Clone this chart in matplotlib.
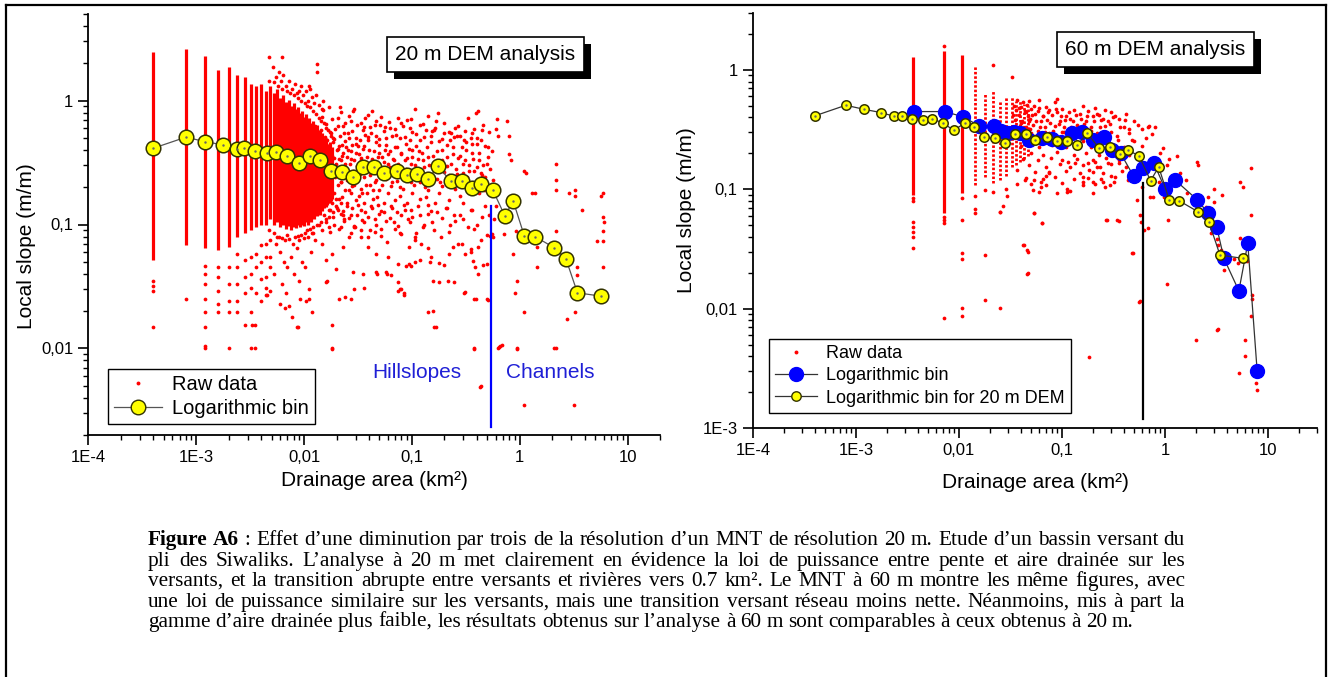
import matplotlib
matplotlib.use("Agg")
import matplotlib.pyplot as plt
from matplotlib.lines import Line2D
from matplotlib.patches import Rectangle
from matplotlib.ticker import LogLocator, NullFormatter
import numpy as np

plt.rcParams['font.family'] = ['Liberation Sans', 'DejaVu Sans']

# ---------------- 20 m DEM ----------------
bin20_area = [4.0e-4, 7.96e-4, 1.21e-3, 1.76e-3, 2.36e-3, 2.78e-3, 3.53e-3, 4.52e-3, 5.52e-3,
              7.0e-3, 8.87e-3, 1.14e-2, 1.40e-2, 1.76e-2, 2.23e-2, 2.83e-2, 3.53e-2, 4.47e-2,
              5.52e-2, 7.2e-2, 9.04e-2, 0.112, 0.140, 0.176, 0.228, 0.291, 0.363, 0.440, 0.562,
              0.726, 0.871, 1.10, 1.38, 2.10, 2.68, 3.43, 5.68]
bin20_slope = [0.413, 0.506, 0.467, 0.439, 0.408, 0.415, 0.390, 0.381, 0.388, 0.360, 0.312,
               0.358, 0.332, 0.272, 0.267, 0.244, 0.290, 0.290, 0.259, 0.272, 0.252, 0.256,
               0.233, 0.295, 0.223, 0.226, 0.196, 0.213, 0.190, 0.118, 0.154, 0.0815, 0.080,
               0.0648, 0.0529, 0.0281, 0.0264]

# raw data piled up in solid columns (cell multiples of 0.0004 km2)
col20_area = [0.0004, 0.0008, 0.0012, 0.0016, 0.0020, 0.0024, 0.0028, 0.0032, 0.0036, 0.0040, 0.0044,
              0.0048, 0.0052, 0.0056, 0.0060, 0.0064, 0.0068, 0.0072, 0.0076, 0.0080, 0.0084,
              0.0088, 0.0092, 0.0096, 0.0100, 0.0104, 0.0108, 0.0112, 0.0116, 0.0120, 0.0124,
              0.0128, 0.0132, 0.0136, 0.0140, 0.0144, 0.0148, 0.0152, 0.0156, 0.0160, 0.0164,
              0.0168, 0.0172, 0.0176, 0.0180]
col20_top = [2.45, 2.6, 2.3, 1.75, 1.85, 1.6, 1.55, 1.35, 1.3, 1.35, 1.2,
             1.3, 1.15, 1.25, 1.05, 1.12, 0.98, 1.02, 0.9, 0.95, 0.85,
             0.88, 0.8, 0.82, 0.74, 0.78, 0.7, 0.72, 0.66, 0.68, 0.62,
             0.6, 0.63, 0.56, 0.58, 0.52, 0.55, 0.5, 0.47, 0.5, 0.45,
             0.43, 0.46, 0.41, 0.42]
col20_bot = [0.052, 0.068, 0.065, 0.062, 0.066, 0.08, 0.085, 0.09, 0.095, 0.1, 0.1,
             0.11, 0.1, 0.105, 0.095, 0.1, 0.092, 0.098, 0.09, 0.095, 0.093,
             0.1, 0.095, 0.1, 0.098, 0.105, 0.1, 0.11, 0.105, 0.115, 0.11,
             0.12, 0.118, 0.125, 0.12, 0.13, 0.128, 0.135, 0.14, 0.138, 0.145,
             0.15, 0.148, 0.155, 0.16]

raw20_pts = [
    (0.00477, 2.24), (0.00628, 2.23), (0.0051, 1.86), (0.0133, 1.98), (0.0133, 1.69), (0.0090, 1.20),
    (0.0114, 1.24), (0.0119, 1.06), (0.0150, 1.00), (0.0171, 0.88), (0.0215, 0.88), (0.0283, 0.83),
    (0.039, 0.76), (0.0469, 0.69), (0.0356, 0.61), (0.0562, 0.61), (0.074, 0.73), (0.0973, 0.71),
    (0.128, 0.65), (0.154, 0.57), (0.221, 0.56), (0.245, 0.51), (0.305, 0.48), (0.39, 0.80),
    (0.168, 0.69), (0.605, 0.59), (0.76, 0.69), (0.796, 0.52), (0.633, 0.52), (0.504, 0.42),
    (0.401, 0.45), (0.833, 0.33), (0.796, 0.37),
    (0.0055, 1.55), (0.0058, 1.70), (0.0061, 1.45), (0.0064, 1.60), (0.0068, 1.30), (0.0072, 1.45),
    (0.0077, 1.25), (0.0082, 1.35), (0.0086, 1.15), (0.0093, 1.30), (0.0097, 1.10), (0.0103, 1.20),
    (0.0108, 1.00), (0.0112, 1.30), (0.0124, 0.95), (0.0128, 1.10), (0.0138, 0.92), (0.0145, 0.85),
    (1.10, 0.27), (1.15, 0.26), (1.38, 0.18), (1.31, 0.18), (2.17, 0.31), (2.17, 0.23), (2.17, 0.19),
    (3.28, 0.19), (3.28, 0.17), (2.86, 0.18), (5.94, 0.18), (5.68, 0.17), (3.76, 0.13), (5.94, 0.115),
    (6.0, 0.105), (5.94, 0.089), (5.94, 0.074), (5.18, 0.074), (5.94, 0.045), (3.43, 0.045),
    (3.43, 0.039), (3.28, 0.0196), (2.73, 0.0174), (2.17, 0.089), (2.17, 0.066), (2.17, 0.059),
    (1.44, 0.066), (1.44, 0.045), (0.95, 0.035), (0.91, 0.028), (1.10, 0.0196), (1.10, 0.0035),
    (3.20, 0.0035), (0.633, 0.010), (0.66, 0.0105), (0.95, 0.010), (2.10, 0.010), (2.17, 0.010),
    (0.376, 0.010), (0.431, 0.0049), (0.161, 0.0148), (0.14, 0.0196), (0.305, 0.028), (0.38, 0.025),
    (0.495, 0.025), (0.50, 0.048), (0.55, 0.084), (0.50, 0.082), (0.366, 0.051), (0.35, 0.063),
    (0.29, 0.07), (0.221, 0.058), (0.20, 0.047), (0.18, 0.049), (0.14, 0.065), (0.118, 0.052),
    (0.098, 0.046), (0.088, 0.046), (0.074, 0.029), (0.085, 0.027), (0.0588, 0.040), (0.047, 0.040),
    (0.0356, 0.031), (0.027, 0.025), (0.024, 0.026), (0.018, 0.0154), (0.018, 0.010), (0.0119, 0.0196),
    (0.011, 0.025), (0.0085, 0.0148), (0.0088, 0.0148), (0.0067, 0.021), (0.006, 0.023),
    (0.0035, 0.0154), (0.0033, 0.0154), (0.0032, 0.010), (0.0035, 0.010), (0.0020, 0.010),
    (0.0020, 0.0196), (0.0012, 0.010), (0.0012, 0.0104), (0.0012, 0.015), (0.0012, 0.0196),
    (0.0012, 0.025), (0.0012, 0.033), (0.0012, 0.040), (0.0012, 0.046), (0.0004, 0.035),
    (0.0004, 0.032), (0.0004, 0.029), (0.0004, 0.015), (0.0008, 0.025),
    (0.58, 0.11), (0.6, 0.14), (0.78, 0.16), (0.82, 0.12), (0.72, 0.084), (0.92, 0.088), (0.87, 0.058),
    (0.0016, 0.045), (0.0016, 0.038), (0.0016, 0.029), (0.0016, 0.023), (0.0016, 0.0196),
    (0.0020, 0.045), (0.0020, 0.033), (0.0020, 0.024), (0.0024, 0.058), (0.0024, 0.045),
    (0.0024, 0.033), (0.0024, 0.024), (0.0024, 0.0196), (0.0028, 0.052), (0.0028, 0.038),
    (0.0028, 0.028), (0.0028, 0.0154), (0.0032, 0.055), (0.0032, 0.040), (0.0032, 0.031),
    (0.0032, 0.0196), (0.0036, 0.058), (0.0036, 0.045), (0.0036, 0.028), (0.0040, 0.068),
    (0.0040, 0.05), (0.0040, 0.036), (0.0040, 0.024), (0.0044, 0.07), (0.0044, 0.055),
    (0.0044, 0.038), (0.0044, 0.031), (0.0044, 0.027), (0.0048, 0.075), (0.0048, 0.055),
    (0.0048, 0.045), (0.0048, 0.029),
    (0.0055, 0.07), (0.006, 0.06), (0.0065, 0.05), (0.007, 0.045), (0.0075, 0.055), (0.008, 0.04),
    (0.0085, 0.065), (0.009, 0.035), (0.0095, 0.05), (0.0102, 0.045), (0.011, 0.03), (0.0115, 0.06),
    (0.0052, 0.04), (0.0062, 0.033), (0.0068, 0.028), (0.0072, 0.022), (0.0078, 0.018),
    (0.0092, 0.025), (0.0104, 0.024), (0.0045, 0.027), (0.0056, 0.08), (0.0066, 0.075),
    (0.0079, 0.07), (0.0089, 0.075), (0.0099, 0.078), (0.0108, 0.08), (0.0118, 0.085),
    (0.0158, 0.0343), (0.0199, 0.0439), (0.0282, 0.0413), (0.0349, 0.040), (0.0464, 0.0413),
    (0.0575, 0.0413), (0.0641, 0.0388), (0.074, 0.0343), (0.0795, 0.0303), (0.0853, 0.0279),
    (0.1057, 0.0497), (0.1456, 0.0497), (0.156, 0.0353), (0.180, 0.0343), (0.215, 0.0353),
    (0.248, 0.0343), (0.308, 0.0285), (0.395, 0.0251), (0.507, 0.0244), (0.386, 0.0453),
    (0.455, 0.0467), (0.409, 0.040), (0.564, 0.079), (0.532, 0.0815), (0.409, 0.0657),
    (0.355, 0.0598), (0.308, 0.058), (0.24, 0.0657), (0.151, 0.0546), (0.122, 0.0698),
    (0.106, 0.079), (0.0795, 0.084), (0.0949, 0.0482), (0.0949, 0.0657), (0.074, 0.0482),
    (0.0597, 0.0546), (0.0465, 0.058), (0.0518, 0.0815), (0.0389, 0.0657), (0.0339, 0.079),
    (0.0263, 0.079), (0.0229, 0.0657), (0.0182, 0.058), (0.0146, 0.0698), (0.0158, 0.0513),
    (0.0219, 0.095), (0.017, 0.095), (0.0288, 0.095), (0.0412, 0.0895), (0.0209, 0.0251),
    (0.0163, 0.0353), (0.0288, 0.0303), (0.0767, 0.0303), (0.156, 0.0202), (0.168, 0.0149),
    (0.0182, 0.0099), (0.38, 0.0099), (0.645, 0.0103), (0.69, 0.0106), (0.946, 0.0099), (0.44, 0.0050),
    (0.0151, 0.84), (0.0221, 0.81), (0.0288, 0.86), (0.043, 0.82), (0.106, 0.85), (0.174, 0.80), (0.41, 0.83),
    (0.0146, 0.74), (0.018, 0.71), (0.026, 0.75), (0.037, 0.72), (0.052, 0.74), (0.09, 0.70),
    (0.142, 0.75), (0.33, 0.72), (0.62, 0.71),
    (0.016, 0.65), (0.0205, 0.62), (0.024, 0.66), (0.031, 0.63), (0.045, 0.64), (0.061, 0.67),
    (0.082, 0.62), (0.12, 0.64), (0.20, 0.66), (0.27, 0.62), (0.46, 0.64),
    (0.0142, 0.58), (0.0175, 0.56), (0.0195, 0.59), (0.0232, 0.55), (0.028, 0.57), (0.035, 0.58),
    (0.042, 0.55), (0.055, 0.57), (0.07, 0.59), (0.10, 0.56), (0.16, 0.58), (0.23, 0.55),
    (0.31, 0.57), (0.38, 0.59), (0.52, 0.56),
    (0.0155, 0.51), (0.019, 0.49), (0.0215, 0.52), (0.026, 0.50), (0.033, 0.48), (0.039, 0.51),
    (0.05, 0.49), (0.065, 0.52), (0.078, 0.50), (0.095, 0.48), (0.13, 0.51), (0.19, 0.49),
    (0.26, 0.52), (0.35, 0.50), (0.44, 0.48),
    (0.0148, 0.45), (0.0168, 0.43), (0.0185, 0.46), (0.0225, 0.44), (0.0245, 0.42), (0.030, 0.45),
    (0.036, 0.43), (0.046, 0.46), (0.058, 0.44), (0.072, 0.42), (0.088, 0.45), (0.11, 0.43),
    (0.15, 0.46), (0.21, 0.44), (0.29, 0.42), (0.36, 0.45), (0.48, 0.43),
    (0.0152, 0.39), (0.0172, 0.37), (0.020, 0.40), (0.023, 0.38), (0.027, 0.39), (0.032, 0.37),
    (0.040, 0.40), (0.050, 0.38), (0.063, 0.39), (0.080, 0.37), (0.10, 0.40), (0.125, 0.38),
    (0.17, 0.39), (0.24, 0.37), (0.32, 0.40), (0.42, 0.38), (0.55, 0.39),
    (0.0145, 0.35), (0.016, 0.33), (0.0188, 0.345), (0.021, 0.335), (0.025, 0.35), (0.029, 0.33),
    (0.034, 0.345), (0.043, 0.335), (0.053, 0.35), (0.068, 0.33), (0.09, 0.345), (0.115, 0.335),
    (0.14, 0.35), (0.19, 0.33), (0.27, 0.345), (0.37, 0.335),
    (0.015, 0.305), (0.0178, 0.295), (0.0198, 0.31), (0.024, 0.29), (0.0265, 0.305), (0.031, 0.295),
    (0.037, 0.31), (0.048, 0.29), (0.06, 0.305), (0.075, 0.295), (0.098, 0.31), (0.13, 0.29),
    (0.16, 0.305), (0.21, 0.295), (0.30, 0.31), (0.40, 0.29), (0.50, 0.305),
    (0.0158, 0.265), (0.0182, 0.255), (0.021, 0.27), (0.0235, 0.25), (0.028, 0.265), (0.033, 0.255),
    (0.040, 0.27), (0.052, 0.25), (0.068, 0.265), (0.085, 0.255), (0.11, 0.27), (0.145, 0.25),
    (0.20, 0.265), (0.26, 0.255), (0.34, 0.27), (0.45, 0.25),
    (0.0143, 0.235), (0.0165, 0.225), (0.0192, 0.24), (0.022, 0.22), (0.026, 0.235), (0.030, 0.225),
    (0.036, 0.24), (0.045, 0.22), (0.057, 0.235), (0.072, 0.225), (0.092, 0.24), (0.12, 0.22),
    (0.17, 0.235), (0.23, 0.225), (0.31, 0.24), (0.39, 0.22),
    (0.015, 0.205), (0.0175, 0.195), (0.0205, 0.21), (0.024, 0.19), (0.028, 0.205), (0.034, 0.195),
    (0.041, 0.21), (0.050, 0.19), (0.064, 0.205), (0.082, 0.195), (0.105, 0.21), (0.14, 0.19),
    (0.19, 0.205), (0.25, 0.195), (0.33, 0.21), (0.47, 0.19),
    (0.0145, 0.18), (0.0168, 0.17), (0.019, 0.178), (0.0225, 0.168), (0.027, 0.18), (0.032, 0.17),
    (0.038, 0.178), (0.047, 0.168), (0.060, 0.18), (0.078, 0.17), (0.10, 0.178), (0.135, 0.168),
    (0.18, 0.18), (0.28, 0.17), (0.42, 0.178),
    (0.0155, 0.158), (0.018, 0.15), (0.021, 0.16), (0.025, 0.148), (0.030, 0.157), (0.036, 0.15),
    (0.044, 0.16), (0.055, 0.148), (0.070, 0.157), (0.090, 0.15), (0.12, 0.16), (0.165, 0.148),
    (0.22, 0.157), (0.30, 0.15),
    (0.0148, 0.138), (0.017, 0.13), (0.0198, 0.14), (0.023, 0.128), (0.028, 0.137), (0.034, 0.13),
    (0.042, 0.14), (0.052, 0.128), (0.066, 0.137), (0.086, 0.13), (0.115, 0.14), (0.15, 0.128),
    (0.21, 0.137), (0.35, 0.13),
    (0.0152, 0.12), (0.0185, 0.114), (0.022, 0.122), (0.026, 0.113), (0.031, 0.12), (0.039, 0.114),
    (0.050, 0.122), (0.063, 0.113), (0.080, 0.12), (0.10, 0.114), (0.14, 0.122), (0.19, 0.113),
    (0.28, 0.12), (0.45, 0.114),
    (0.016, 0.105), (0.019, 0.099), (0.0235, 0.106), (0.029, 0.098), (0.036, 0.104), (0.046, 0.099),
    (0.058, 0.106), (0.075, 0.098), (0.095, 0.104), (0.13, 0.099), (0.25, 0.106),
    (0.0145, 0.091), (0.0175, 0.087), (0.021, 0.092), (0.027, 0.086), (0.034, 0.091), (0.045, 0.087),
    (0.07, 0.092), (0.11, 0.086), (0.16, 0.091), (0.22, 0.087), (0.38, 0.092),
    (0.0125, 0.62), (0.013, 0.45), (0.0135, 0.3), (0.0127, 0.2), (0.0132, 0.14), (0.0137, 0.1),
    (0.0122, 0.085), (0.0126, 0.075), (0.014, 0.5), (0.0142, 0.26), (0.0139, 0.16), (0.0163, 0.48),
    (0.0166, 0.3), (0.0169, 0.21), (0.0173, 0.13), (0.0178, 0.52), (0.0183, 0.36), (0.0194, 0.27),
    (0.0197, 0.16), (0.0212, 0.43), (0.0218, 0.33), (0.0222, 0.22), (0.0228, 0.12),
    (0.0205, 0.41), (0.0215, 0.29), (0.0225, 0.36), (0.0238, 0.47), (0.0242, 0.31), (0.0248, 0.23),
    (0.0255, 0.4), (0.0262, 0.19), (0.0272, 0.34), (0.0278, 0.44), (0.0285, 0.27), (0.0292, 0.21),
    (0.0302, 0.38), (0.0315, 0.43), (0.0322, 0.26), (0.0335, 0.33), (0.0342, 0.18), (0.0352, 0.41),
    (0.0365, 0.29), (0.0372, 0.21), (0.0385, 0.35), (0.0395, 0.48), (0.0405, 0.25), (0.0418, 0.32),
    (0.0432, 0.19), (0.0445, 0.39), (0.0455, 0.28), (0.0468, 0.23), (0.0482, 0.35), (0.0495, 0.44),
    (0.051, 0.27), (0.053, 0.21), (0.0545, 0.32), (0.056, 0.40), (0.058, 0.25), (0.0605, 0.37),
    (0.0625, 0.29), (0.065, 0.22), (0.067, 0.34), (0.0695, 0.42), (0.0715, 0.27), (0.074, 0.31),
    (0.077, 0.2), (0.079, 0.38), (0.083, 0.24), (0.086, 0.33), (0.089, 0.28), (0.093, 0.41),
    (0.097, 0.22), (0.101, 0.35), (0.106, 0.3), (0.11, 0.24), (0.116, 0.39), (0.121, 0.27),
    (0.127, 0.33), (0.133, 0.2), (0.138, 0.42), (0.145, 0.3), (0.152, 0.24), (0.158, 0.36),
    (0.166, 0.27), (0.175, 0.32), (0.183, 0.22), (0.192, 0.4), (0.2, 0.29), (0.21, 0.35),
    (0.22, 0.25), (0.232, 0.31), (0.243, 0.42), (0.255, 0.28), (0.268, 0.22), (0.28, 0.36),
    (0.295, 0.26), (0.31, 0.33), (0.325, 0.24), (0.34, 0.3), (0.36, 0.38), (0.375, 0.27),
    (0.395, 0.22), (0.415, 0.33), (0.435, 0.26), (0.46, 0.3), (0.48, 0.24), (0.51, 0.35),
    (0.535, 0.28), (0.56, 0.23),
    (0.0208, 0.13), (0.0232, 0.11), (0.0252, 0.142), (0.0275, 0.12), (0.0298, 0.095), (0.0318, 0.145),
    (0.0345, 0.108), (0.0368, 0.125), (0.0392, 0.08), (0.0425, 0.135), (0.0458, 0.11), (0.0488, 0.145),
    (0.052, 0.092), (0.0555, 0.125), (0.059, 0.072), (0.0635, 0.14), (0.068, 0.105), (0.0725, 0.125),
    (0.078, 0.085), (0.084, 0.145), (0.091, 0.11), (0.098, 0.13), (0.107, 0.075), (0.118, 0.12),
    (0.128, 0.095), (0.14, 0.145), (0.155, 0.105), (0.17, 0.125), (0.186, 0.08), (0.205, 0.135),
    (0.225, 0.1), (0.245, 0.12), (0.27, 0.07), (0.3, 0.11), (0.33, 0.095), (0.36, 0.13),
    (0.4, 0.1), (0.44, 0.075), (0.48, 0.14), (0.52, 0.12),
    (0.0205, 0.72), (0.023, 0.62), (0.0255, 0.55), (0.0275, 0.68), (0.0305, 0.5), (0.0335, 0.66),
    (0.037, 0.53), (0.041, 0.61), (0.046, 0.52), (0.051, 0.64), (0.057, 0.5), (0.063, 0.6),
    (0.071, 0.53), (0.079, 0.66), (0.087, 0.51), (0.096, 0.6), (0.108, 0.54), (0.12, 0.48),
    (0.135, 0.58), (0.15, 0.52), (0.165, 0.6), (0.18, 0.47), (0.2, 0.55), (0.225, 0.48),
    (0.25, 0.6), (0.28, 0.52), (0.32, 0.46), (0.36, 0.55), (0.4, 0.5), (0.45, 0.58),
    (0.0047, 1.45), (0.0053, 1.4), (0.0057, 1.3), (0.0063, 1.25), (0.0069, 1.2), (0.0074, 1.15),
    (0.0081, 1.1), (0.0087, 1.05), (0.0094, 1.0), (0.0101, 0.95), (0.0107, 0.9), (0.0113, 0.88),
    (0.0121, 0.82), (0.0129, 0.78), (0.0136, 0.72), (0.0143, 0.68), (0.0152, 0.66), (0.016, 0.6),
    (0.0168, 0.58), (0.0177, 0.55), (0.0186, 0.5),
    (0.0047, 0.09), (0.0053, 0.085), (0.0058, 0.08), (0.0063, 0.078), (0.0069, 0.082), (0.0073, 0.076),
    (0.0082, 0.079), (0.0087, 0.081), (0.0094, 0.083), (0.0101, 0.086), (0.0107, 0.09), (0.0114, 0.092),
    (0.012, 0.095), (0.0131, 0.1), (0.0144, 0.105), (0.0158, 0.11), (0.017, 0.115), (0.0185, 0.125),
    (0.02, 0.135), (0.022, 0.15),
]

# ---------------- 60 m DEM ----------------
bin60_area = [0.00365, 0.00724, 0.0109, 0.0157, 0.0219, 0.0258, 0.0297, 0.034, 0.0395, 0.0478,
              0.0637, 0.0809, 0.098, 0.124, 0.158, 0.200, 0.254, 0.308, 0.372, 0.496, 0.617,
              0.783, 1.01, 1.25, 2.07, 2.63, 3.18, 3.74, 5.23, 6.38, 7.87]
bin60_slope = [0.448, 0.448, 0.406, 0.340, 0.340, 0.310, 0.294, 0.300, 0.298, 0.259, 0.268,
               0.262, 0.251, 0.294, 0.304, 0.259, 0.273, 0.214, 0.200, 0.129, 0.150, 0.165,
               0.100, 0.120, 0.0814, 0.0629, 0.0486, 0.0264, 0.0141, 0.0353, 0.0030]

col60_area = [0.0036, 0.0072, 0.0108]
col60_top = [1.29, 1.45, 1.34]
col60_bot = [0.090, 0.063, 0.0925]
dcol60_area = [0.0144, 0.018, 0.0216, 0.0252, 0.0288, 0.0324, 0.036, 0.0396, 0.0432, 0.0468]
dcol60_top = [1.10, 0.64, 0.68, 0.56, 0.59, 0.60, 0.55, 0.55, 0.52, 0.50]
dcol60_bot = [0.109, 0.128, 0.113, 0.12, 0.13, 0.155, 0.16, 0.17, 0.18, 0.19]

raw60_pts = [
    (0.0036, 0.0535), (0.0036, 0.0486), (0.0036, 0.0441), (0.0036, 0.040), (0.0036, 0.032),
    (0.0036, 0.085), (0.0036, 0.080), (0.0072, 1.59), (0.0072, 0.059), (0.0072, 0.055),
    (0.0072, 0.052), (0.0072, 0.0083), (0.0108, 0.055), (0.0108, 0.029), (0.0108, 0.026),
    (0.0108, 0.0101), (0.0108, 0.0086), (0.0108, 0.085), (0.0144, 0.088), (0.0144, 0.063),
    (0.0144, 0.069), (0.018, 0.098), (0.018, 0.028), (0.018, 0.0118), (0.0216, 1.1), (0.0216, 0.095),
    (0.0252, 0.065), (0.0252, 0.0101), (0.0288, 0.10), (0.0324, 0.88),
    (0.029, 0.0885), (0.0265, 0.072), (0.0535, 0.0637), (0.0644, 0.0525), (0.0428, 0.034),
    (0.0466, 0.030), (0.0466, 0.020), (0.184, 0.0039), (0.275, 0.055), (0.344, 0.055),
    (0.485, 0.029), (0.56, 0.0114), (0.571, 0.061), (0.689, 0.0477), (0.531, 0.081), (0.764, 0.0867),
    (0.0363, 0.145), (0.0363, 0.11), (0.044, 0.12), (0.0526, 0.099), (0.054, 0.12), (0.063, 0.116),
    (0.063, 0.105), (0.07, 0.13), (0.075, 0.14), (0.111, 0.10), (0.111, 0.095), (0.115, 0.17),
    (0.135, 0.165), (0.161, 0.128), (0.161, 0.116), (0.18, 0.165), (0.185, 0.145), (0.20, 0.116),
    (0.21, 0.17), (0.234, 0.155), (0.25, 0.116), (0.26, 0.105), (0.28, 0.165), (0.30, 0.13),
    (0.32, 0.116), (0.36, 0.165), (0.38, 0.20), (0.43, 0.20), (0.44, 0.12), (0.50, 0.128),
    (0.60, 0.105), (0.65, 0.145), (0.71, 0.0867), (0.75, 0.12),
    (2.07, 0.17), (2.1, 0.16), (2.63, 0.087), (3.0, 0.079), (3.0, 0.10), (3.31, 0.034), (3.5, 0.031),
    (3.74, 0.021), (5.4, 0.116), (5.7, 0.105), (6.8, 0.15), (6.8, 0.061), (6.95, 0.013), (6.3, 0.025),
    (4.7, 0.026), (5.1, 0.024), (5.95, 0.0055), (6.0, 0.004), (5.2, 0.0029), (6.8, 0.0086),
    (7.7, 0.0024), (7.9, 0.0021), (3.3, 0.0068), (3.2, 0.0066), (2.02, 0.0055), (1.05, 0.0162),
    (0.57, 0.0115), (0.48, 0.029), (0.59, 0.053), (0.62, 0.046), (0.99, 0.087), (1.08, 0.055),
    (0.87, 0.116), (1.3, 0.19), (1.4, 0.136), (1.6, 0.12), (1.65, 0.093), (2.5, 0.059), (2.5, 0.071),
    (2.8, 0.043), (3.2, 0.038), (3.6, 0.09), (5.4, 0.039), (7.0, 0.012),
    (0.025, 0.065), (0.053, 0.063), (0.0415, 0.034), (0.046, 0.031), (0.046, 0.0197),
    (0.0637, 0.0526), (0.267, 0.0553), (0.355, 0.0546),
    (0.8, 0.33), (0.95, 0.22), (1.05, 0.16), (0.75, 0.29), (0.68, 0.33), (0.9, 0.2), (1.1, 0.18),
    (0.6, 0.32), (0.65, 0.27), (0.7, 0.34),
    (0.037, 0.56), (0.042, 0.54), (0.048, 0.55), (0.06, 0.56), (0.085, 0.54), (0.09, 0.57),
    (0.034, 0.50), (0.04, 0.49), (0.046, 0.51), (0.053, 0.50), (0.07, 0.49), (0.10, 0.47),
    (0.16, 0.50), (0.21, 0.48),
    (0.036, 0.46), (0.044, 0.45), (0.05, 0.47), (0.058, 0.45), (0.075, 0.46), (0.09, 0.44),
    (0.13, 0.46), (0.18, 0.45), (0.26, 0.46), (0.30, 0.44),
    (0.038, 0.42), (0.047, 0.41), (0.055, 0.43), (0.065, 0.41), (0.08, 0.42), (0.11, 0.41),
    (0.15, 0.43), (0.20, 0.41), (0.23, 0.42), (0.33, 0.41), (0.42, 0.43),
    (0.035, 0.38), (0.041, 0.37), (0.049, 0.39), (0.062, 0.37), (0.072, 0.38), (0.095, 0.37),
    (0.12, 0.39), (0.17, 0.37), (0.24, 0.38), (0.28, 0.37), (0.36, 0.39), (0.50, 0.37),
    (0.039, 0.34), (0.045, 0.335), (0.052, 0.345), (0.068, 0.335), (0.085, 0.34), (0.105, 0.335),
    (0.14, 0.345), (0.19, 0.335), (0.26, 0.34), (0.40, 0.335), (0.55, 0.345),
    (0.043, 0.30), (0.05, 0.295), (0.058, 0.305), (0.075, 0.295), (0.10, 0.30), (0.13, 0.295),
    (0.18, 0.305), (0.22, 0.295), (0.30, 0.30), (0.45, 0.295),
    (0.046, 0.26), (0.055, 0.255), (0.07, 0.265), (0.09, 0.255), (0.12, 0.26), (0.16, 0.255),
    (0.20, 0.265), (0.25, 0.255), (0.35, 0.26), (0.50, 0.255),
    (0.04, 0.23), (0.06, 0.225), (0.08, 0.235), (0.11, 0.225), (0.15, 0.23), (0.19, 0.225),
    (0.28, 0.235), (0.40, 0.225), (0.60, 0.23),
    (0.05, 0.20), (0.065, 0.195), (0.09, 0.205), (0.13, 0.195), (0.17, 0.20), (0.23, 0.195),
    (0.32, 0.205), (0.45, 0.195),
    (0.042, 0.18), (0.058, 0.175), (0.078, 0.182), (0.10, 0.175), (0.14, 0.18), (0.20, 0.175),
    (0.27, 0.182), (0.36, 0.175), (0.55, 0.18),
    (0.048, 0.16), (0.07, 0.155), (0.095, 0.162), (0.12, 0.155), (0.16, 0.16), (0.22, 0.155),
    (0.30, 0.162), (0.42, 0.155), (0.70, 0.16),
    (0.055, 0.14), (0.075, 0.137), (0.11, 0.142), (0.15, 0.137), (0.20, 0.14), (0.25, 0.137),
    (0.38, 0.142),
    (0.045, 0.125), (0.065, 0.122), (0.085, 0.127), (0.13, 0.122), (0.18, 0.125), (0.24, 0.122),
    (0.33, 0.127),
    (0.05, 0.11), (0.07, 0.108), (0.10, 0.112), (0.16, 0.108), (0.21, 0.11), (0.29, 0.108),
    (0.06, 0.095), (0.09, 0.093), (0.12, 0.097), (0.20, 0.093),
    (0.0335, 0.42), (0.0355, 0.33), (0.0375, 0.27), (0.0385, 0.48), (0.0405, 0.36), (0.0425, 0.29),
    (0.0445, 0.44), (0.0475, 0.37), (0.0495, 0.32), (0.0515, 0.42), (0.0545, 0.28), (0.0565, 0.37),
    (0.0595, 0.48), (0.0615, 0.33), (0.066, 0.41), (0.069, 0.3), (0.073, 0.44), (0.077, 0.36),
    (0.082, 0.31), (0.087, 0.47), (0.093, 0.35), (0.098, 0.41), (0.104, 0.3), (0.108, 0.38),
    (0.117, 0.44), (0.123, 0.33), (0.128, 0.37), (0.138, 0.42), (0.146, 0.31), (0.153, 0.39),
    (0.165, 0.35), (0.175, 0.41), (0.19, 0.31), (0.205, 0.37), (0.22, 0.43), (0.235, 0.33),
    (0.25, 0.39), (0.27, 0.3), (0.29, 0.35), (0.31, 0.4), (0.34, 0.28), (0.37, 0.33),
    (0.41, 0.38), (0.45, 0.32), (0.48, 0.26),
]

# shared axis texts
x_ticks = [1e-4, 1e-3, 1e-2, 1e-1, 1, 10]
x_tick_labels = ["1E-4", "1E-3", "0,01", "0,1", "1", "10"]

caption_lines = [
    "Figure A6 : Effet d’une diminution par trois de la résolution d’un MNT de résolution 20 m. Etude d’un bassin versant du",
    "pli des Siwaliks. L’analyse à 20 m met clairement en évidence la loi de puissance entre pente et aire drainée sur les",
    "versants, et la transition abrupte entre versants et rivières vers 0.7 km². Le MNT à 60 m montre les même figures, avec",
    "une loi de puissance similaire sur les versants, mais une transition versant réseau moins nette. Néanmoins, mis à part la",
    "gamme d’aire drainée plus faible, les résultats obtenus sur l’analyse à 60 m sont comparables à ceux obtenus à 20 m.",
]

W, H = 1329, 677
fig = plt.figure(figsize=(W / 100, H / 100), dpi=100)

RED = '#ff0000'
YEL = '#ffff00'
BLUE = '#0000ff'
LAB = 15


def style_axes(ax, xlim, ylim, yticks, ylabels):
    ax.set_xscale('log')
    ax.set_yscale('log')
    ax.set_xlim(*xlim)
    ax.set_ylim(*ylim)
    for s in ['top', 'right']:
        ax.spines[s].set_visible(False)
    for s in ['left', 'bottom']:
        ax.spines[s].set_linewidth(1.3)
    ax.set_xticks(x_ticks, x_tick_labels)
    ax.set_yticks(yticks, ylabels)
    ax.xaxis.set_minor_locator(LogLocator(base=10, subs=np.arange(2, 10), numticks=50))
    ax.yaxis.set_minor_locator(LogLocator(base=10, subs=np.arange(2, 10), numticks=50))
    ax.xaxis.set_minor_formatter(NullFormatter())
    ax.yaxis.set_minor_formatter(NullFormatter())
    ax.tick_params(which='major', direction='out', length=7, width=1.2, labelsize=12, pad=4)
    ax.tick_params(which='minor', direction='out', length=3.5, width=1.0)
    ax.set_facecolor('none')


def bin_marker(ax, x, y, face, ms, z=4):
    ax.plot(x, y, 'o', color=face, mec='#333300', mew=1.1, ms=ms, zorder=z)
    ax.plot(x, y, '.', color='#666666', ms=1.5, zorder=z + 0.1)


boxes = []


def shadow_box(x, y, text):
    t = fig.text(x / W, 1 - y / H, text, fontsize=15, ha='center', va='center', zorder=6,
                 bbox=dict(boxstyle='square,pad=0.4', fc='white', ec='black', lw=1.2))
    boxes.append(t)


# ---------- left panel ----------
ax1 = fig.add_axes([88.5 / W, 1 - 435 / H, 571.5 / W, 421 / H])
a20, s20 = zip(*raw20_pts)
ax1.vlines(col20_area, col20_bot, col20_top, color=RED, lw=2.3, zorder=1)
ax1.plot(a20, s20, 'o', color=RED, ms=2.7, mew=0, zorder=1)
ax1.plot(bin20_area, bin20_slope, '-', color='#555555', lw=0.9, zorder=3)
bin_marker(ax1, bin20_area, bin20_slope, YEL, 10.5)
ax1.plot([0.547, 0.547], [0.0023, 0.142], color=BLUE, lw=1.6, zorder=2)
style_axes(ax1, (1e-4, 20), (0.002, 5), [0.01, 0.1, 1], ["0,01", "0,1", "1"])
ax1.set_xlabel("Drainage area (km²)", fontsize=LAB, va='center')
ax1.xaxis.set_label_coords(0.5, -(480 - 435) / 421)
ax1.set_ylabel("Local slope (m/m)", fontsize=LAB, va='center')
ax1.yaxis.set_label_coords((27 - 88.5) / 571.5, (435 - 246) / 421)
fig.text(417 / W, 1 - 373 / H, "Hillslopes", color='#1f1fd6', fontsize=15, ha='center', va='center')
fig.text(550 / W, 1 - 373 / H, "Channels", color='#1f1fd6', fontsize=15, ha='center', va='center')
h_raw = Line2D([], [], marker='o', ls='none', color=RED, ms=2.8, mew=0)
h_y20 = Line2D([], [], marker='o', ls='-', color='#555555', mfc=YEL, mec='#333300', ms=10.5, lw=0.9)
leg1 = ax1.legend([h_raw, h_y20], ["Raw data", "Logarithmic bin"], loc='lower left',
                  bbox_to_anchor=((108 - 88.5) / 571.5, (435 - 424) / 421), borderaxespad=0,
                  fontsize=14.5, frameon=True, fancybox=False, edgecolor='black', framealpha=1,
                  handlelength=2.4, handletextpad=0.5, borderpad=0.3, labelspacing=0.25)
leg1.get_frame().set_linewidth(1.0)
shadow_box(485.5, 54.5, "20 m DEM analysis")

# ---------- right panel ----------
ax2 = fig.add_axes([753 / W, 1 - 428 / H, 564 / W, 415 / H])
a60, s60 = zip(*raw60_pts)
ax2.vlines(col60_area, col60_bot, col60_top, color=RED, lw=2.3, zorder=1)
ax2.vlines(dcol60_area, dcol60_bot, dcol60_top, color=RED, lw=2.0, linestyles=(0, (0.9, 0.7)), zorder=1)
ax2.plot(a60, s60, 'o', color=RED, ms=2.7, mew=0, zorder=1)
ax2.plot(bin60_area, bin60_slope, '-', color='#333333', lw=0.9, zorder=3)
ax2.plot(bin60_area, bin60_slope, 'o', color=BLUE, mec=BLUE, ms=10, zorder=4)
ax2.plot(bin20_area, bin20_slope, '-', color='#333333', lw=0.9, zorder=5)
bin_marker(ax2, bin20_area, bin20_slope, YEL, 6.8, z=6)
ax2.plot([0.615, 0.615], [0.0012, 0.113], color='black', lw=1.6, zorder=2)
style_axes(ax2, (1e-4, 30), (1e-3, 3), [1e-3, 0.01, 0.1, 1], ["1E-3", "0,01", "0,1", "1"])
ax2.set_xlabel("Drainage area (km²)", fontsize=LAB, va='center')
ax2.xaxis.set_label_coords(0.5, -(482 - 428) / 415)
ax2.set_ylabel("Local slope (m/m)", fontsize=LAB, va='center')
ax2.yaxis.set_label_coords((686.5 - 753) / 564, (428 - 210) / 415)
h_b60 = Line2D([], [], marker='o', ls='-', color='#333333', mfc=BLUE, mec=BLUE, ms=10, lw=0.9)
h_y20s = Line2D([], [], marker='o', ls='-', color='#333333', mfc=YEL, mec='#333300', ms=6.8, lw=0.9)
leg2 = ax2.legend([h_raw, h_b60, h_y20s], ["Raw data", "Logarithmic bin", "Logarithmic bin for 20 m DEM"],
                  loc='lower left', bbox_to_anchor=((769 - 753) / 564, (428 - 413) / 415), borderaxespad=0,
                  fontsize=13, frameon=True, fancybox=False, edgecolor='black', framealpha=1,
                  handlelength=2.3, handletextpad=0.5, borderpad=0.35, labelspacing=0.3)
leg2.get_frame().set_linewidth(1.0)
shadow_box(1155.5, 49.5, "60 m DEM analysis")

# ---------- outer frame ----------
fig.add_artist(Line2D([5.5 / W, 5.5 / W], [0, 1 - 4.5 / H], color='black', lw=1.6))
fig.add_artist(Line2D([5.5 / W, 1326 / W], [1 - 4.5 / H, 1 - 4.5 / H], color='black', lw=1.6))
fig.add_artist(Line2D([1326 / W, 1326 / W], [0, 1 - 4.5 / H], color='black', lw=1.6))

# ---------- justified caption ----------
cap_base = [545, 566, 586, 607, 627]
x0, x1 = 148, 1185
fig.canvas.draw()
r = fig.canvas.get_renderer()

# black drop shadows behind the two title boxes
for t in boxes:
    bb = t.get_bbox_patch().get_window_extent(r)
    off = 7
    fig.add_artist(Rectangle(((bb.x0 + off) / W, (bb.y0 - off) / H), bb.width / W, bb.height / H,
                             transform=fig.transFigure, fc='black', ec='none', zorder=5))

for i, line in enumerate(caption_lines):
    words = line.split(' ')
    arts = []
    for j, w in enumerate(words):
        bold = (i == 0 and j < 2)
        arts.append(fig.text(0, 1 - cap_base[i] / H, w, fontsize=15.3, family=['Liberation Serif', 'DejaVu Serif'],
                             weight='bold' if bold else 'normal', ha='left', va='baseline'))
    widths = [a.get_window_extent(renderer=r).width for a in arts]
    if i < len(caption_lines) - 1:
        gap = (x1 - x0 - sum(widths)) / (len(words) - 1)
    else:
        gap = 5.0
    x = x0
    for a, w in zip(arts, widths):
        a.set_x(x / W)
        x += w + gap

fig.savefig("out.png", dpi=100)
